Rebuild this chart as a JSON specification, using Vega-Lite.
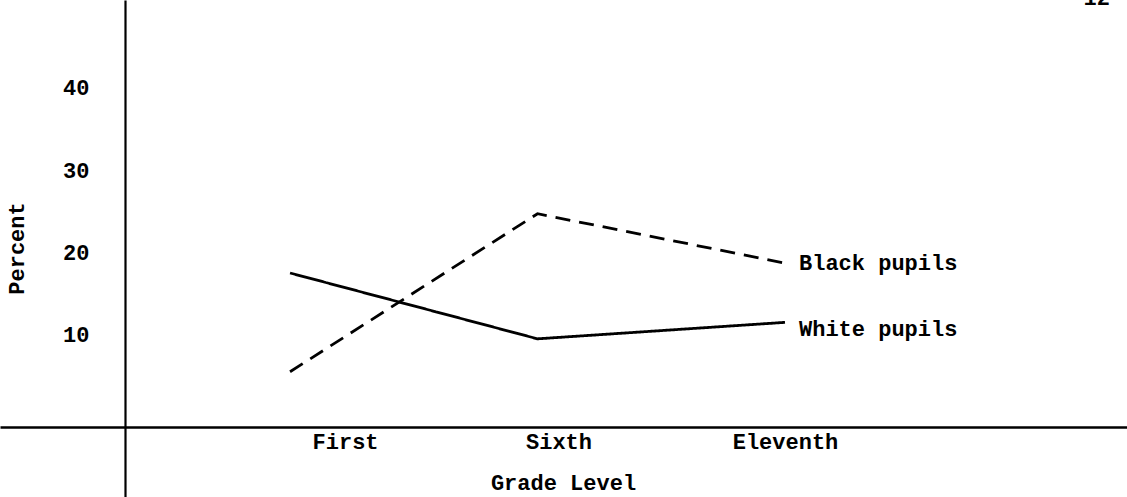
{
  "$schema": "https://vega.github.io/schema/vega-lite/v6.json",
  "width": 1127,
  "height": 497,
  "autosize": {"type": "none"},
  "padding": 0,
  "background": "white",
  "config": {"view": {"stroke": null}, "font": "Liberation Mono"},
  "data": {
    "values": [
      {"grade": 1, "percent": 17.5, "group": "White pupils"},
      {"grade": 6, "percent": 9.5, "group": "White pupils"},
      {"grade": 11, "percent": 11.5, "group": "White pupils"},
      {"grade": 1, "percent": 5.5, "group": "Black pupils"},
      {"grade": 6, "percent": 24.7, "group": "Black pupils"},
      {"grade": 11, "percent": 18.7, "group": "Black pupils"}
    ]
  },
  "layer": [
    {
      "mark": {"type": "line", "color": "black", "strokeWidth": 2.8},
      "encoding": {
        "x": {
          "field": "grade",
          "type": "quantitative",
          "scale": {"domain": [-4.86, 17.91], "nice": false, "zero": false},
          "axis": {
            "values": [1, 6, 11],
            "labelExpr": "datum.value == 1 ? 'First' : datum.value == 6 ? 'Sixth' : 'Eleventh'",
            "title": "Grade Level",
            "orient": "bottom",
            "offset": -70,
            "domainColor": "black",
            "domainWidth": 2.5,
            "ticks": false,
            "tickSize": 0,
            "grid": false,
            "labelPadding": 14,
            "labelBaseline": "middle",
            "labelAlign": "center",
            "labelFont": "Liberation Mono",
            "labelFontSize": 22,
            "labelFontWeight": "bold",
            "labelColor": "black",
            "labelFlush": false,
            "labelOverlap": false,
            "labelOffset": {"condition": [{"test": "datum.value == 1", "value": 55}, {"test": "datum.value == 6", "value": 21}], "value": 0},
            "titleFont": "Liberation Mono",
            "titleFontSize": 22,
            "titleFontWeight": "bold",
            "titleColor": "black",
            "titleX": 563,
            "titleY": 55,
            "titleAlign": "center",
            "titleBaseline": "middle"
          }
        },
        "y": {
          "field": "percent",
          "type": "quantitative",
          "scale": {"domain": [-9.72, 50.67], "nice": false, "zero": false},
          "axis": {
            "values": [10, 20, 30, 40],
            "title": "Percent",
            "offset": -125,
            "domainColor": "black",
            "domainWidth": 2.2,
            "ticks": false,
            "tickSize": 0,
            "grid": false,
            "labelPadding": 36,
            "labelAlign": "right",
            "labelBaseline": "middle",
            "labelFont": "Liberation Mono",
            "labelFontSize": 22,
            "labelFontWeight": "bold",
            "labelColor": "black",
            "labelFlush": false,
            "labelOverlap": false,
            "titleFont": "Liberation Mono",
            "titleFontSize": 22,
            "titleFontWeight": "bold",
            "titleColor": "black",
            "titleX": -109,
            "titleY": 248,
            "titleAngle": 270,
            "titleAlign": "center",
            "titleBaseline": "middle"
          }
        },
        "strokeDash": {
          "field": "group",
          "type": "nominal",
          "scale": {"domain": ["Black pupils", "White pupils"], "range": [[15, 9], [1, 0]]},
          "legend": null
        }
      }
    },
    {
      "transform": [{"filter": "datum.grade == 11 && datum.group == 'Black pupils'"}],
      "mark": {"type": "text", "align": "left", "baseline": "middle", "dx": 14, "dy": 0, "fontSize": 22, "fontWeight": "bold", "font": "Liberation Mono", "color": "black"},
      "encoding": {
        "x": {"field": "grade", "type": "quantitative"},
        "y": {"field": "percent", "type": "quantitative"},
        "text": {"field": "group"}
      }
    },
    {
      "transform": [{"filter": "datum.grade == 11 && datum.group == 'White pupils'"}],
      "mark": {"type": "text", "align": "left", "baseline": "middle", "dx": 14, "dy": 7, "fontSize": 22, "fontWeight": "bold", "font": "Liberation Mono", "color": "black"},
      "encoding": {
        "x": {"field": "grade", "type": "quantitative"},
        "y": {"field": "percent", "type": "quantitative"},
        "text": {"field": "group"}
      }
    },
    {
      "data": {"values": [{"page": "12"}]},
      "mark": {"type": "text", "align": "center", "baseline": "alphabetic", "fontSize": 22, "fontWeight": "bold", "font": "Liberation Mono", "color": "black"},
      "encoding": {
        "x": {"datum": 17.3},
        "y": {"datum": 50.1},
        "text": {"field": "page"}
      }
    }
  ]
}
